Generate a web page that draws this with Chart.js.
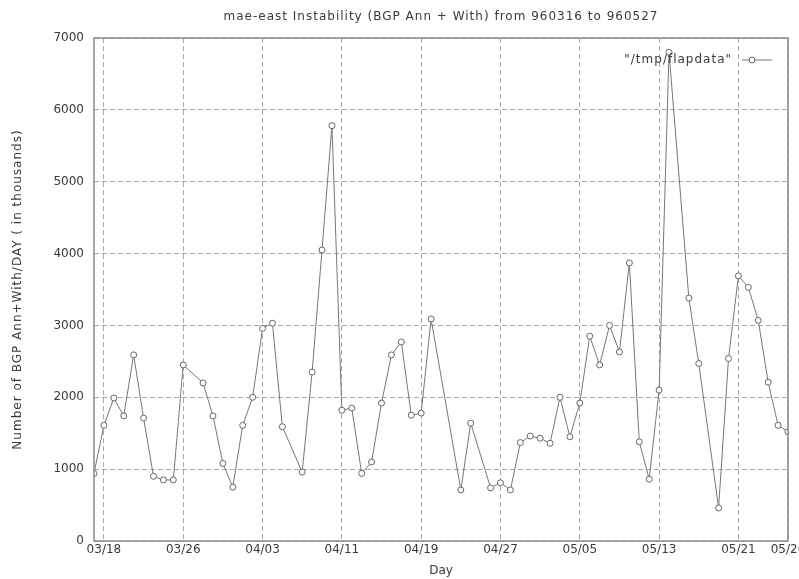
<!DOCTYPE html>
<html>
<head>
<meta charset="utf-8">
<script src="https://cdn.jsdelivr.net/npm/chart.js@4.4.0/dist/chart.umd.min.js"></script>
<style>
  html, body { margin: 0; padding: 0; background: #fff; overflow: hidden; }
</style>
</head>
<body>
<canvas id="flapChart" width="815" height="579"></canvas>
<script>
// day number counted from 03/16 (0), values in thousands
const days = [1,2,3,4,5,6,7,8,9,10,12,13,14,15,16,17,18,19,20,22,23,24,25,26,27,28,29,30,31,32,33,34,35,38,39,41,42,43,44,45,46,47,48,49,50,51,52,53,54,55,56,57,58,59,61,62,64,65,66,67,68,69,70,71];
const flaps = [940,1610,1990,1740,2590,1710,900,850,850,2450,2200,1740,1080,750,1610,2000,2960,3030,1590,960,2350,4050,5780,1820,1850,940,1100,1920,2590,2770,1750,1780,3090,710,1640,740,810,710,1370,1460,1430,1360,2000,1450,1920,2850,2450,3000,2630,3870,1380,860,2100,6800,3380,2470,460,2540,3690,3530,3070,2210,1610,1520];

const tickDays = [2,10,18,26,34,42,50,58,66,71];
const tickLabels = ["03/18","03/26","04/03","04/11","04/19","04/27","05/05","05/13","05/21","05/26"];

const titleText = 'mae-east Instability (BGP Ann + With) from 960316 to 960527';
const yTitleText = 'Number of BGP Ann+With/DAY ( in thousands)';
const legendText = '"/tmp/flapdata"';

const gridCol = '#a8a8a8';
const textCol = '#3a3a3a';
const fontFam = '"DejaVu Sans", sans-serif';

// frame round the plot, title, y title and gnuplot style key (wide letter spacing like the original)
const framePlugin = {
    id: 'frame',
    afterDatasetsDraw(chart) {
        const ctx = chart.ctx;
        const a = chart.chartArea;
        ctx.save();
        ctx.strokeStyle = '#8a8a8a';
        ctx.lineWidth = 1.5;
        ctx.strokeRect(a.left, a.top, a.right - a.left, a.bottom - a.top);

        ctx.font = '12px ' + fontFam;
        ctx.letterSpacing = '1px';
        ctx.fillStyle = textCol;
        ctx.textBaseline = 'middle';

        ctx.textAlign = 'center';
        ctx.fillText(titleText, (a.left + a.right) / 2, 17);

        ctx.save();
        ctx.translate(18, (a.top + a.bottom) / 2);
        ctx.rotate(-Math.PI / 2);
        ctx.fillText(yTitleText, 0, 0);
        ctx.restore();

        ctx.textAlign = 'right';
        ctx.fillText(legendText, a.right - 56, a.top + 22);
        ctx.strokeStyle = '#777';
        ctx.lineWidth = 1;
        ctx.beginPath();
        ctx.moveTo(a.right - 46, a.top + 22);
        ctx.lineTo(a.right - 16, a.top + 22);
        ctx.stroke();
        ctx.beginPath();
        ctx.arc(a.right - 36, a.top + 22, 3, 0, Math.PI * 2);
        ctx.fillStyle = '#fff';
        ctx.fill();
        ctx.strokeStyle = '#666';
        ctx.stroke();
        ctx.restore();
    }
};

const ctx = document.getElementById('flapChart').getContext('2d');
let flapChart = new Chart(ctx, {
    type: 'line',
    data: {
        datasets: [{
            label: legendText,
            data: days.map((d, i) => ({x: d, y: flaps[i]})),
            borderColor: '#777',
            borderWidth: 1,
            pointRadius: 3,
            pointBorderWidth: 1,
            pointBorderColor: '#666',
            pointBackgroundColor: '#fff',
            tension: 0,
            fill: false
        }]
    },
    options: {
        responsive: false,
        animation: false,
        layout: { padding: { left: 0, right: 27, top: 38, bottom: 0 } },
        plugins: {
            legend: { display: false },
            tooltip: { enabled: false },
            title: { display: false }
        },
        scales: {
            x: {
                type: 'linear',
                min: 1,
                max: 71,
                afterBuildTicks: (s) => { s.ticks = tickDays.map(v => ({value: v})); },
                afterFit: (s) => { s.height = 38; },
                ticks: {
                    autoSkip: false,
                    maxRotation: 0,
                    padding: 2,
                    color: textCol,
                    font: { family: fontFam, size: 12 },
                    callback: (v) => { const k = tickDays.indexOf(v); return k < 0 ? '' : tickLabels[k]; }
                },
                grid: { color: gridCol, drawTicks: false },
                border: { display: false, dash: [5, 3] },
                title: {
                    display: true,
                    text: 'Day',
                    color: textCol,
                    font: { family: fontFam, size: 12 },
                    padding: { top: 0, bottom: 1 }
                }
            },
            y: {
                min: 0,
                max: 7000,
                afterFit: (s) => { s.width = 94; },
                ticks: {
                    stepSize: 1000,
                    padding: 10,
                    color: textCol,
                    font: { family: fontFam, size: 12 },
                    callback: (v) => String(v)
                },
                grid: { color: gridCol, drawTicks: false },
                border: { display: false, dash: [5, 3] },
                title: { display: false }
            }
        }
    },
    plugins: [framePlugin]
});
</script>
</body>
</html>
